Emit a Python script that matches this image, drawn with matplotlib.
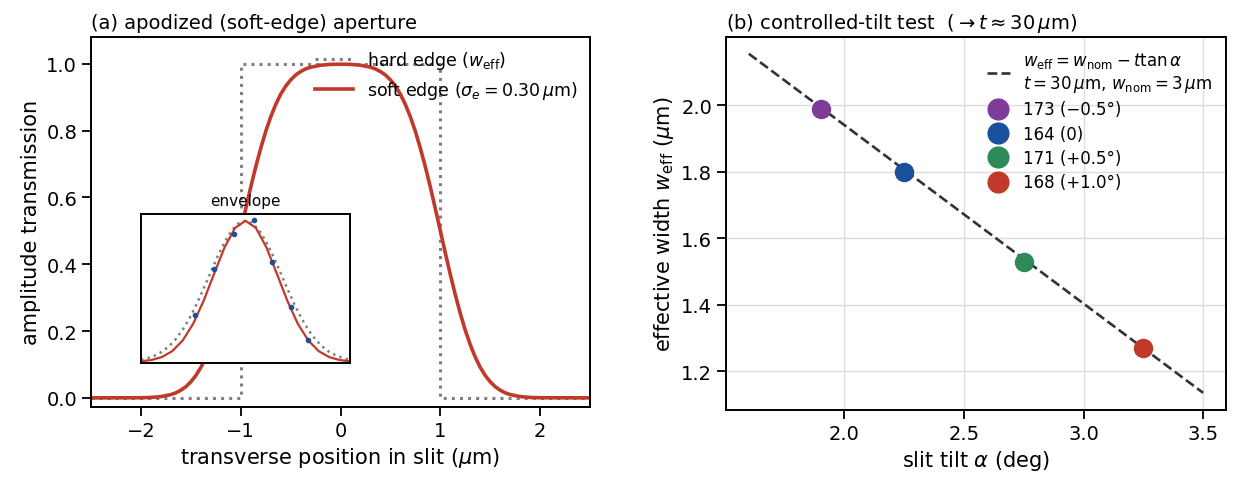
import matplotlib
matplotlib.use("Agg")
import matplotlib.pyplot as plt

# ---- panel (a): aperture profiles ----
x_hard = [-2.5, -1.0, -1.0, 1.0, 1.0, 2.5]
y_hard = [0.0, 0.0, 1.0, 1.0, 0.0, 0.0]

x_soft = [-2.5, -2.0, -1.9, -1.8, -1.7, -1.65, -1.6, -1.55, -1.5, -1.45, -1.4, -1.35, -1.3,
          -1.25, -1.2, -1.15, -1.1, -1.05, -1.0, -0.95, -0.9, -0.85, -0.8, -0.75, -0.7,
          -0.65, -0.6, -0.55, -0.5, -0.45, -0.4, -0.35, -0.3, -0.2, -0.1, 0.0,
          0.1, 0.2, 0.3, 0.35, 0.4, 0.45, 0.5, 0.55, 0.6, 0.65, 0.7, 0.75, 0.8, 0.85,
          0.9, 0.95, 1.0, 1.05, 1.1, 1.15, 1.2, 1.25, 1.3, 1.35, 1.4, 1.45, 1.5, 1.55,
          1.6, 1.65, 1.7, 1.8, 1.9, 2.0, 2.5]
y_soft = [0.0, 0.0004, 0.0013, 0.0038, 0.0098, 0.0151, 0.023, 0.0334, 0.048, 0.0668, 0.091, 0.1217, 0.159,
          0.2023, 0.2525, 0.3085, 0.369, 0.4338, 0.5, 0.5662, 0.631, 0.6915, 0.747, 0.7977, 0.841,
          0.8783, 0.909, 0.9332, 0.952, 0.9666, 0.977, 0.9849, 0.990, 0.996, 0.9985, 0.999,
          0.9985, 0.996, 0.990, 0.9849, 0.977, 0.9666, 0.952, 0.9332, 0.909, 0.8783, 0.841, 0.7977, 0.747, 0.6915,
          0.631, 0.5662, 0.5, 0.4338, 0.369, 0.3085, 0.2525, 0.2023, 0.159, 0.1217, 0.091, 0.0668, 0.048, 0.0334,
          0.023, 0.0151, 0.0098, 0.0038, 0.0013, 0.0004, 0.0]

# inset "envelope"
env_x_soft = [-3.0, -2.7, -2.4, -2.1, -1.8, -1.5, -1.2, -0.9, -0.6, -0.3, 0.0,
              0.3, 0.6, 0.9, 1.2, 1.5, 1.8, 2.1, 2.4, 2.7, 3.0]
env_y_soft = [0.006, 0.015, 0.036, 0.078, 0.154, 0.272, 0.435, 0.626, 0.812, 0.949, 1.0,
              0.949, 0.812, 0.626, 0.435, 0.272, 0.154, 0.078, 0.036, 0.015, 0.006]
env_x_hard = [-3.0, -2.8, -2.6, -2.4, -2.2, -2.0, -1.8, -1.6, -1.4, -1.2, -1.0, -0.8, -0.6, -0.4, -0.2, 0.0,
              0.2, 0.4, 0.6, 0.8, 1.0, 1.2, 1.4, 1.6, 1.8, 2.0, 2.2, 2.4, 2.6, 2.8, 3.0]
env_y_hard = [0.017, 0.029, 0.047, 0.073, 0.111, 0.163, 0.230, 0.313, 0.411, 0.521, 0.635, 0.748, 0.849, 0.930, 0.982, 1.0,
              0.982, 0.930, 0.849, 0.748, 0.635, 0.521, 0.411, 0.313, 0.230, 0.163, 0.111, 0.073, 0.047, 0.029, 0.017]
env_x_pts = [-1.45, -0.90, -0.33, 0.23, 0.76, 1.31, 1.80]
env_y_pts = [0.336, 0.659, 0.908, 1.009, 0.706, 0.393, 0.160]

# ---- panel (b): tilt test ----
fit_alpha = [1.6, 3.5]
fit_w = [2.155, 1.135]
run_labels = ["173 (\u22120.5\u00b0)", "164 (0)", "171 (+0.5\u00b0)", "168 (+1.0\u00b0)"]
run_alpha = [1.9, 2.25, 2.75, 3.25]
run_w = [1.99, 1.80, 1.53, 1.27]
run_colors = ["#7d3c98", "#1a4f9c", "#2e8b57", "#c0392b"]

plt.rcParams.update({
    "font.size": 14,
    "axes.linewidth": 1.4,
    "xtick.major.size": 6.5, "ytick.major.size": 6.5,
    "xtick.major.width": 1.3, "ytick.major.width": 1.3,
    "xtick.labelsize": 14, "ytick.labelsize": 14,
    "mathtext.fontset": "dejavusans",
})

fig = plt.figure(figsize=(12.37, 4.85), dpi=100)
ax1 = fig.add_axes([0.0736, 0.159, 0.4034, 0.763])
ax2 = fig.add_axes([0.587, 0.153, 0.404, 0.769])

red = "#c0392b"
ax1.plot(x_hard, y_hard, ls=":", color="#808080", lw=2.2, label=r"hard edge ($w_{\rm eff}$)")
ax1.plot(x_soft, y_soft, color=red, lw=2.6, label=r"soft edge ($\sigma_e=0.30\,\mu$m)")
ax1.set_xlim(-2.5, 2.5)
ax1.set_ylim(-0.027, 1.081)
ax1.set_xlabel(r"transverse position in slit ($\mu$m)", fontsize=15)
ax1.set_ylabel("amplitude transmission", fontsize=15)
ax1.set_title("(a) apodized (soft-edge) aperture", loc="left", fontsize=14)
ax1.legend(loc="upper right", frameon=False, fontsize=12.5, handlelength=2.2,
           borderaxespad=0.3, labelspacing=0.45)

ins = ax1.inset_axes([0.1, 0.119, 0.419, 0.403])
ins.plot(env_x_hard, env_y_hard, ls=":", color="#808080", lw=1.8)
ins.plot(env_x_soft, env_y_soft, color=red, lw=1.6)
ins.plot(env_x_pts, env_y_pts, "o", color="#1a4f9c", ms=3)
ins.set_xlim(-3.0, 3.0)
ins.set_ylim(-0.005, 1.05)
ins.set_xticks([])
ins.set_yticks([])
ins.set_title("envelope", fontsize=11)
for s in ins.spines.values():
    s.set_linewidth(1.4)

ax2.plot(fit_alpha, fit_w, ls="--", color="#333333", lw=1.9,
         label="$w_{\\rm eff}=w_{\\rm nom}-t\\tan\\alpha$\n$t=30\\,\\mu$m, $w_{\\rm nom}=3\\,\\mu$m")
for a, w, c, lab in zip(run_alpha, run_w, run_colors, run_labels):
    ax2.plot([a], [w], "o", color=c, ms=13, ls="none", label=lab, zorder=3)
ax2.grid(True, color="#dddddd", lw=1.0)
ax2.set_xticks([2.0, 2.5, 3.0, 3.5])
ax2.set_yticks([1.2, 1.4, 1.6, 1.8, 2.0])
ax2.set_xlabel(r"slit tilt $\alpha$ (deg)", fontsize=15)
ax2.set_ylabel(r"effective width $w_{\rm eff}$ ($\mu$m)", fontsize=15)
ax2.set_title(r"(b) controlled-tilt test  ($\rightarrow t\approx 30\,\mu$m)", loc="left", fontsize=14)
ax2.legend(loc="upper right", frameon=False, fontsize=12, handlelength=1.4,
           markerscale=1.15, borderaxespad=0.4, labelspacing=0.38)

fig.savefig("out.png", dpi=100)
